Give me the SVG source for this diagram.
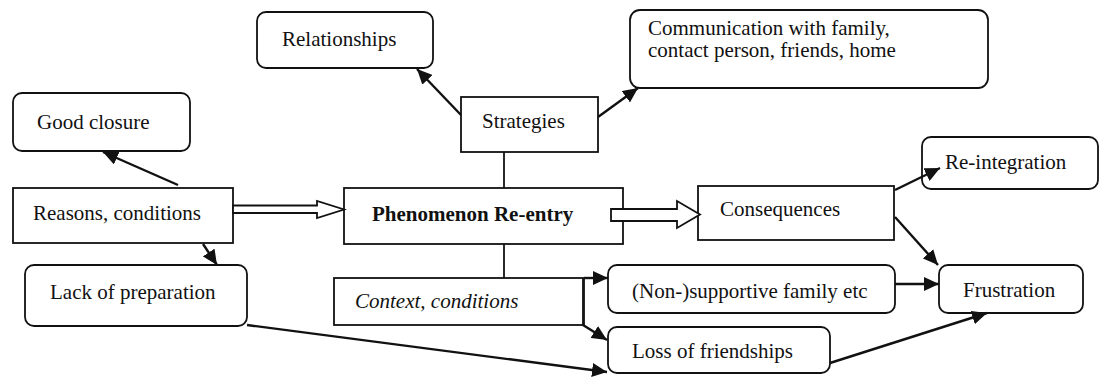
<svg xmlns="http://www.w3.org/2000/svg" width="1100" height="377" viewBox="0 0 1100 377">
<style>
.box{fill:#fff;stroke:#111;stroke-width:1.8}
.t{font-family:"Liberation Serif","Times New Roman",serif;font-size:21px;fill:#111}
.b{font-weight:bold}
.i{font-style:italic}
.ln{fill:none;stroke:#111;stroke-width:2.4}
.thin{fill:none;stroke:#111;stroke-width:1.8}
.hol{fill:#fff;stroke:#111;stroke-width:1.8;stroke-linejoin:miter}
</style>
<defs>
<marker id="ah" markerUnits="userSpaceOnUse" markerWidth="16" markerHeight="14" refX="15" refY="7" orient="auto">
<path d="M0,0 L15,7 L0,14 z" fill="#111"/>
</marker>
</defs>
<rect width="1100" height="377" fill="#fff"/>
<g id="good-closure"><rect class="box" x="13" y="93" width="177" height="58" rx="9"/><text class="t" x="37" y="129">Good closure</text></g>
<g id="reasons"><rect class="box" x="13" y="188" width="220" height="55"/><text class="t" x="33" y="220">Reasons, conditions</text></g>
<g id="lack-preparation"><rect class="box" x="25" y="265" width="222" height="61" rx="9"/><text class="t" x="50" y="299">Lack of preparation</text></g>
<g id="relationships"><rect class="box" x="257" y="12" width="176" height="56" rx="9"/><text class="t" x="282" y="46">Relationships</text></g>
<g id="strategies"><rect class="box" x="461" y="97" width="137" height="55"/><text class="t" x="482" y="128">Strategies</text></g>
<g id="communication"><rect class="box" x="630" y="10" width="358" height="78" rx="10"/><text class="t" x="648" y="35">Communication with family,</text><text class="t" x="648" y="57">contact person, friends, home</text></g>
<g id="phenomenon"><rect class="box" x="344" y="188" width="279" height="56"/><text class="t b" x="372" y="221">Phenomenon Re-entry</text></g>
<g id="consequences"><rect class="box" x="698" y="186" width="196" height="54"/><text class="t" x="720" y="216">Consequences</text></g>
<g id="re-integration"><rect class="box" x="922" y="137" width="176" height="52" rx="9"/><text class="t" x="945" y="169">Re-integration</text></g>
<g id="context"><rect class="box" x="334" y="278" width="250" height="47"/><text class="t i" x="355" y="308">Context, conditions</text></g>
<g id="non-supportive"><rect class="box" x="608" y="265" width="287" height="48" rx="9"/><text class="t" x="632" y="298">(Non-)supportive family etc</text></g>
<g id="loss-friendships"><rect class="box" x="608" y="327" width="222" height="46" rx="9"/><text class="t" x="632" y="358">Loss of friendships</text></g>
<g id="frustration"><rect class="box" x="939" y="265" width="144" height="48" rx="9"/><text class="t" x="963" y="297">Frustration</text></g>
<g id="connectors">
<line class="ln" x1="178" y1="185" x2="103" y2="152" marker-end="url(#ah)"/>
<line class="ln" x1="203" y1="244" x2="217" y2="265" marker-end="url(#ah)"/>
<polygon class="hol" points="233,205.5 317,205.5 317,201 344,209.5 317,218 317,213 233,213"/>
<line class="thin" x1="504" y1="152" x2="504" y2="188"/>
<line class="ln" x1="461" y1="115" x2="417" y2="69" marker-end="url(#ah)"/>
<line class="ln" x1="598" y1="117" x2="638" y2="88" marker-end="url(#ah)"/>
<polygon class="hol" points="611,209 677,209 677,201 700,214.5 677,228 677,221 611,221"/>
<line class="thin" x1="504" y1="244" x2="504" y2="278"/>
<line class="ln" x1="584" y1="278" x2="608" y2="278" marker-end="url(#ah)"/>
<line class="thin" x1="583" y1="278" x2="583" y2="325"/>
<line class="ln" x1="583" y1="325" x2="607" y2="340" marker-end="url(#ah)"/>
<line class="ln" x1="247" y1="325" x2="607" y2="372" marker-end="url(#ah)"/>
<line class="ln" x1="895" y1="190" x2="940" y2="168" marker-end="url(#ah)"/>
<line class="ln" x1="895" y1="217" x2="938" y2="265" marker-end="url(#ah)"/>
<line class="ln" x1="895" y1="284" x2="939" y2="284" marker-end="url(#ah)"/>
<line class="ln" x1="830" y1="363" x2="987" y2="313" marker-end="url(#ah)"/>
</g>
</svg>
